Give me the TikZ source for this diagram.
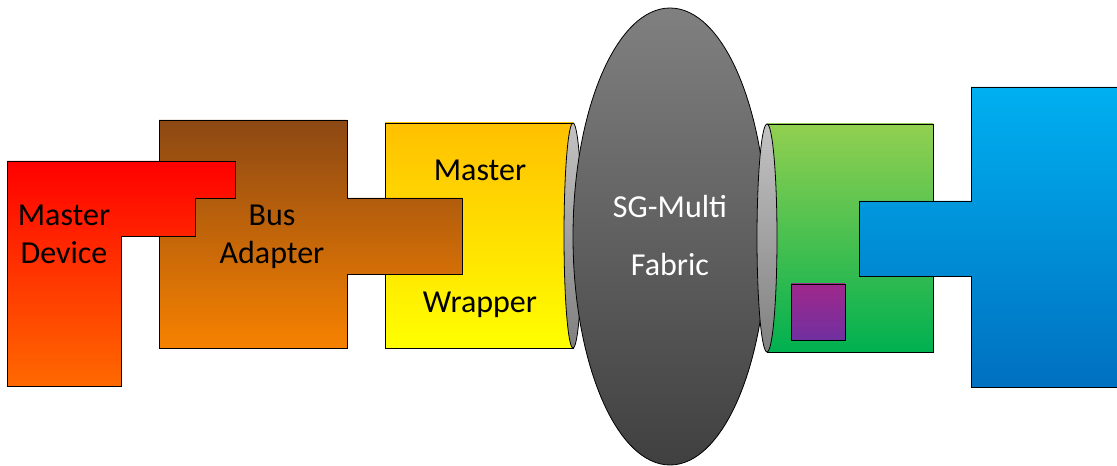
\documentclass[tikz,border=0pt]{standalone}
\usepackage{fontspec}
\setmainfont{Carlito}
\begin{document}
\begin{tikzpicture}[x=1pt,y=1pt,
  outline/.style={draw=black,line width=0.8pt,line join=miter},
  label/.style={anchor=base,inner sep=0pt,font=\fontsize{32}{38}\selectfont},
  capshade/.style={outline,top color=capTop,bottom color=capBot}]
\definecolor{redTop}{RGB}{255,0,0}
\definecolor{redBot}{RGB}{255,105,0}
\definecolor{brnTop}{RGB}{140,72,20}
\definecolor{brnBot}{RGB}{247,130,0}
\definecolor{ylwTop}{RGB}{255,192,0}
\definecolor{ylwBot}{RGB}{255,255,0}
\definecolor{gryTop}{RGB}{128,128,128}
\definecolor{gryBot}{RGB}{64,64,64}
\definecolor{capTop}{RGB}{195,195,195}
\definecolor{capBot}{RGB}{128,128,128}
\definecolor{grnTop}{RGB}{146,208,80}
\definecolor{grnBot}{RGB}{0,176,80}
\definecolor{bluTop}{RGB}{0,176,240}
\definecolor{bluBot}{RGB}{0,112,192}
\definecolor{prpTop}{RGB}{160,40,140}
\definecolor{prpBot}{RGB}{112,48,160}
\useasboundingbox (0,0) rectangle (1117,466);

% master wrapper cylinder
\path[outline,top color=ylwTop,bottom color=ylwBot]
  (385,118) rectangle (573,343);
\path[capshade] (573,230.5) ellipse [x radius=9,y radius=112.5];

% bus adapter
\path[outline,top color=brnTop,bottom color=brnBot]
  (159,346) -- (347,346) -- (347,268) -- (462,268) -- (462,192)
  -- (347,192) -- (347,118) -- (159,118) -- cycle;

% master device
\path[outline,top color=redTop,bottom color=redBot]
  (7,305) -- (235,305) -- (235,268) -- (195,268) -- (195,230)
  -- (121,230) -- (121,80) -- (7,80) -- cycle;

% interconnect fabric
\path[outline,top color=gryTop,bottom color=gryBot]
  (670,229.5) ellipse [x radius=97,y radius=228.5];

% slave wrapper cylinder
\path[top color=grnTop,bottom color=grnBot]
  (767,114) rectangle (933,342);
\draw[outline] (767,342) -- (933,342) -- (933,114) -- (767,114);
\path[capshade] (767,228) ellipse [x radius=10,y radius=114];
\path[outline,top color=prpTop,bottom color=prpBot]
  (791,126) rectangle (845,182);

% slave device
\path[outline,top color=bluTop,bottom color=bluBot]
  (971,379) -- (1125,379) -- (1125,79) -- (971,79) -- (971,190)
  -- (859,190) -- (859,265) -- (971,265) -- cycle;

% labels
\node[label] (md1) at (64,240) {Master};
\node[label] (md2) at (64,202) {Device};
\node[label] (ba1) at (272,240) {Bus};
\node[label] (ba2) at (272,202) {Adapter};
\node[label] (mw1) at (480,285) {Master};
\node[label] (mw2) at (480,153) {Wrapper};
\node[label,text=white] (sg1) at (670,248) {SG-Multi};
\node[label,text=white] (sg2) at (670,190) {Fabric};
\end{tikzpicture}
\end{document}
